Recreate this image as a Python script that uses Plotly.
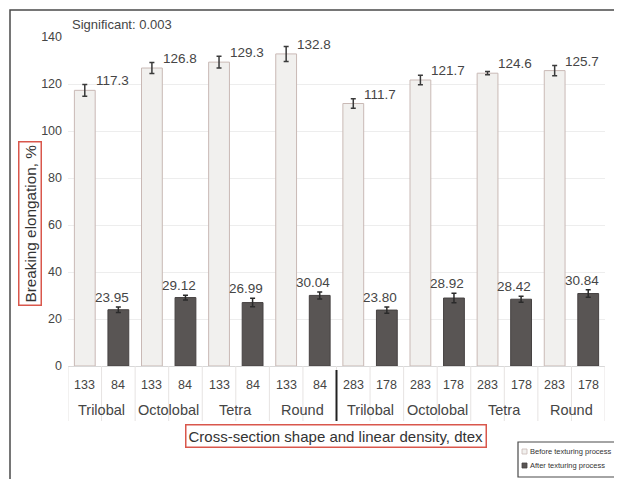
import plotly.graph_objects as go

# ---------------- data ----------------
shape_names = ["Trilobal", "Octolobal", "Tetra", "Round", "Trilobal", "Octolobal", "Tetra", "Round"]
density_before = ["133", "133", "133", "133", "283", "283", "283", "283"]
density_after = ["84", "84", "84", "84", "178", "178", "178", "178"]
before_values = [117.3, 126.8, 129.3, 132.8, 111.7, 121.7, 124.6, 125.7]
after_values = [23.95, 29.12, 26.99, 30.04, 23.80, 28.92, 28.42, 30.84]
before_err = [2.5, 2.3, 2.5, 3.2, 2.0, 2.0, 0.7, 2.2]
after_err = [1.2, 1.0, 1.8, 1.5, 1.3, 2.0, 1.3, 1.6]
before_labels = ["117.3", "126.8", "129.3", "132.8", "111.7", "121.7", "124.6", "125.7"]
after_labels = ["23.95", "29.12", "26.99", "30.04", "23.80", "28.92", "28.42", "30.84"]
y_ticks = [0, 20, 40, 60, 80, 100, 120, 140]

# ---------------- layout geometry ----------------
# the page body has an 8px margin, so the figure is placed at (8, 8)
PAGE_OFF = 8
W, H = 622 - PAGE_OFF, 479 - PAGE_OFF
L, R, T, B = 68 - PAGE_OFF, 17, 37 - PAGE_OFF, 113
PW = W - L - R
PH = H - T - B


def fx(px):  # page pixel x -> paper
    return (px - PAGE_OFF - L) / PW


def fy(py):  # page pixel y -> paper
    return (H - B - (py - PAGE_OFF)) / PH


FONT = "Liberation Sans, Arial, sans-serif"
TXT = "#454545"
RED = "#d9574c"
LIGHT = "#f1f0ee"
LIGHT_EDGE = "#c9b9b5"
DARK = "#595554"
DARK_EDGE = "#464242"
BW = 0.62

xb = [2 * i for i in range(len(before_values))]
xa = [2 * i + 1 for i in range(len(after_values))]

fig = go.Figure()
fig.add_trace(go.Bar(
    x=xb, y=before_values, width=BW, name="Before texturing process",
    marker=dict(color=LIGHT, line=dict(color=LIGHT_EDGE, width=1)),
    error_y=dict(type="data", array=before_err, color="#3a3a3a", thickness=1.5, width=2.5),
))
fig.add_trace(go.Bar(
    x=xa, y=after_values, width=BW, name="After texturing process",
    marker=dict(color=DARK, line=dict(color=DARK_EDGE, width=1)),
    error_y=dict(type="data", array=after_err, color="#2a2a2a", thickness=1.5, width=2.5),
))

annotations = []
# value labels
for x, v, e, t in zip(xb, before_values, before_err, before_labels):
    annotations.append(dict(x=x + BW / 2 - 0.05, y=v, xref="x", yref="y", text=t,
                            showarrow=False, xanchor="left", yanchor="bottom", yshift=0,
                            font=dict(family=FONT, size=13.5, color=TXT)))
for x, v, e, t in zip(xa, after_values, after_err, after_labels):
    annotations.append(dict(x=x - 0.2, y=v + e, xref="x", yref="y", text=t,
                            showarrow=False, xanchor="center", yanchor="bottom", yshift=0,
                            font=dict(family=FONT, size=13.5, color=TXT)))
# first-level category labels (densities)
for x, t in zip(xb, density_before):
    annotations.append(dict(x=x, y=0, xref="x", yref="paper", text=t, showarrow=False,
                            yanchor="middle", yshift=-19, font=dict(family=FONT, size=12.5, color=TXT)))
for x, t in zip(xa, density_after):
    annotations.append(dict(x=x, y=0, xref="x", yref="paper", text=t, showarrow=False,
                            yanchor="middle", yshift=-19, font=dict(family=FONT, size=12.5, color=TXT)))
# second-level category labels (shapes)
for x, t in zip(xb, shape_names):
    annotations.append(dict(x=x + 0.5, y=0, xref="x", yref="paper", text=t, showarrow=False,
                            yanchor="middle", yshift=-44, font=dict(family=FONT, size=14.5, color=TXT)))
# significance note
annotations.append(dict(x=fx(70), y=fy(24), xref="paper", yref="paper", text="Significant: 0.003",
                        showarrow=False, xanchor="left", yanchor="middle",
                        font=dict(family=FONT, size=13, color=TXT)))
# axis titles in red boxes
annotations.append(dict(x=fx(30), y=fy(224), xref="paper", yref="paper", text="Breaking elongation, %",
                        showarrow=False, textangle=-90, xanchor="center", yanchor="middle",
                        bordercolor=RED, borderwidth=1.5, borderpad=2,
                        font=dict(family=FONT, size=15.3, color="#333333")))
annotations.append(dict(x=fx(336), y=fy(436), xref="paper", yref="paper",
                        text="Cross-section shape and linear density, dtex",
                        showarrow=False, xanchor="center", yanchor="middle",
                        bordercolor=RED, borderwidth=1.5, borderpad=2,
                        font=dict(family=FONT, size=15, color="#333333")))
# manual legend
annotations.append(dict(x=fx(529), y=fy(451), xref="paper", yref="paper", text="Before texturing process",
                        showarrow=False, xanchor="left", yanchor="middle", xshift=-1,
                        font=dict(family=FONT, size=7.5, color="#333333")))
annotations.append(dict(x=fx(529), y=fy(465), xref="paper", yref="paper", text="After texturing process",
                        showarrow=False, xanchor="left", yanchor="middle", xshift=-1,
                        font=dict(family=FONT, size=7.5, color="#333333")))

shapes = []
# outer frame
shapes.append(dict(type="rect", xref="paper", yref="paper", x0=fx(10), x1=fx(660), y0=fy(520), y1=fy(10),
                   line=dict(color="#4a4a4a", width=1.5), fillcolor="rgba(0,0,0,0)", layer="below"))
# category separators below the axis
for i in range(17):
    shapes.append(dict(type="line", xref="x", yref="paper", x0=i - 0.5, x1=i - 0.5,
                       y0=0, y1=fy(421), line=dict(color="#e6e3e2", width=1)))
# thick divider between the two density groups
shapes.append(dict(type="line", xref="x", yref="paper", x0=7.5, x1=7.5, y0=fy(370), y1=fy(421),
                   line=dict(color="#222222", width=2)))
# legend box and swatches
shapes.append(dict(type="rect", xref="paper", yref="paper", x0=fx(518), x1=fx(660), y0=fy(477), y1=fy(442),
                   line=dict(color="#4a4a4a", width=1.2), fillcolor="white"))
shapes.append(dict(type="rect", xref="paper", yref="paper", x0=fx(522), x1=fx(527), y0=fy(454), y1=fy(449),
                   line=dict(color=LIGHT_EDGE, width=0.8), fillcolor=LIGHT))
shapes.append(dict(type="rect", xref="paper", yref="paper", x0=fx(522), x1=fx(527), y0=fy(468), y1=fy(463),
                   line=dict(color=DARK_EDGE, width=0.8), fillcolor=DARK))

fig.update_layout(
    width=W, height=H,
    margin=dict(l=L, r=R, t=T, b=B, pad=0),
    paper_bgcolor="white", plot_bgcolor="white",
    barmode="overlay", showlegend=False,
    font=dict(family=FONT, color=TXT),
    xaxis=dict(range=[-0.5, 15.5], showticklabels=False, showgrid=False, zeroline=False,
               showline=True, linecolor="#d8d8d8", linewidth=1, ticks=""),
    yaxis=dict(range=[0, 140], tickvals=y_ticks, showgrid=True, gridcolor="#ededed", gridwidth=1,
               zeroline=False, showline=False, ticks="", ticklabelstandoff=5,
               tickfont=dict(family=FONT, size=12.5, color=TXT)),
    annotations=annotations,
    shapes=shapes,
)

fig.write_html("out.html")
